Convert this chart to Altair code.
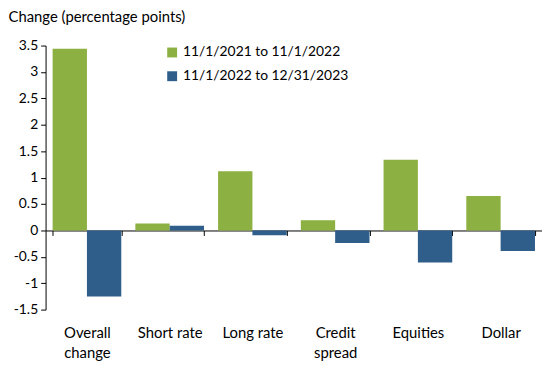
import altair as alt
import pandas as pd

categories = ["Overall change", "Short rate", "Long rate", "Credit spread", "Equities", "Dollar"]
series_names = ["11/1/2021 to 11/1/2022", "11/1/2022 to 12/31/2023"]
values_2021_2022 = [3.44, 0.13, 1.12, 0.19, 1.34, 0.65]
values_2022_2023 = [-1.25, 0.09, -0.09, -0.24, -0.61, -0.39]
colors = ["#8db042", "#2f5e8a"]
y_ticks = [-1.5, -1, -0.5, 0, 0.5, 1, 1.5, 2, 2.5, 3, 3.5]

rows = []
for i, c in enumerate(categories):
    rows.append({"category": c, "series": series_names[0], "value": values_2021_2022[i]})
    rows.append({"category": c, "series": series_names[1], "value": values_2022_2023[i]})
df = pd.DataFrame(rows)

FONT = "Lato"

label_expr = ("datum.label == 'Overall change' ? ['Overall', 'change'] : "
              "datum.label == 'Credit spread' ? ['Credit', 'spread'] : datum.label")

chart = alt.Chart(df).mark_bar().encode(
    x=alt.X("category:N", sort=categories,
            scale=alt.Scale(paddingInner=0.17, paddingOuter=0.085),
            axis=alt.Axis(title=None, orient="bottom", offset=-80, labelAngle=0,
                          tickBand="extent", tickSize=5, tickColor="black",
                          domainColor="black", labelPadding=91,
                          labelExpr=label_expr, labelLineHeight=20,
                          labelFontSize=15, labelFont=FONT, labelColor="black")),
    xOffset=alt.XOffset("series:N", sort=series_names, scale=alt.Scale(paddingInner=0, paddingOuter=0)),
    y=alt.Y("value:Q", scale=alt.Scale(domain=[-1.5, 3.5], nice=False, zero=False),
            axis=alt.Axis(title="Change (percentage points)", values=y_ticks, grid=False,
                          labelExpr="toString(datum.value)",
                          tickSize=5, tickColor="black", domainColor="black",
                          labelPadding=3, labelFontSize=14, labelFont=FONT, labelColor="black",
                          titleAngle=0, titleAlign="left", titleBaseline="alphabetic",
                          titleX=-38, titleY=-24, titleFont=FONT, titleFontSize=15,
                          titleFontWeight="normal", titleColor="black")),
    color=alt.Color("series:N", sort=series_names,
                    scale=alt.Scale(domain=series_names, range=colors),
                    legend=alt.Legend(title=None, orient="none", legendX=121, legendY=0,
                                      symbolType="square", symbolSize=100, symbolStrokeWidth=0,
                                      labelFont=FONT, labelFontSize=14, labelColor="black",
                                      labelLimit=400,
                                      labelOffset=4, rowPadding=10, padding=0)),
).properties(width=502, height=267, padding=0).configure_view(stroke=None)

chart.save("out.html", embed_options={"renderer": "svg", "actions": False})
